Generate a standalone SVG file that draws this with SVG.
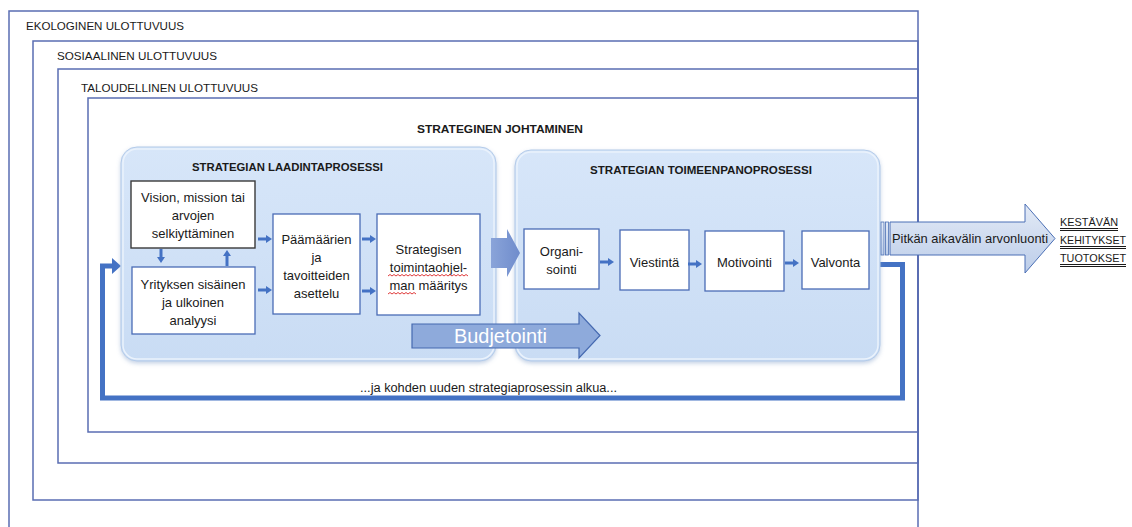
<svg xmlns="http://www.w3.org/2000/svg" width="1132" height="527" viewBox="0 0 1132 527">
  <style>
    .frame { fill: none; stroke: #5a6db3; stroke-width: 1.5; }
    .lbl { font-family: "Liberation Sans", Arial, sans-serif; fill: #1a1a1a; }
    .ttl { font-family: "Liberation Sans", Arial, sans-serif; font-weight: bold; fill: #1a1a1a; }
    .node { fill: #ffffff; stroke: #4a6cb5; stroke-width: 1.3; }
    .node-dark { fill: #ffffff; stroke: #3a3a3a; stroke-width: 1.4; }
    .txt { font-family: "Liberation Sans", Arial, sans-serif; font-size: 13px; fill: #1a1a1a; text-anchor: middle; }
    .proc { fill: url(#procFill); stroke: #b4cbe9; stroke-width: 1; filter: url(#soft); }
    .small { stroke: #4472c4; stroke-width: 3; fill: none; marker-end: url(#ah); }
    .loop { stroke: #4472c4; stroke-width: 5; fill: none; }
    .squiggle { fill: none; stroke: #e03c3c; stroke-width: 1; }
    .uline { stroke: #1a1a1a; stroke-width: 1; }
  </style>
  <defs>
    <linearGradient id="procFill" x1="0" y1="0" x2="0" y2="1">
      <stop offset="0" stop-color="#d7e6f9"/>
      <stop offset="1" stop-color="#c9dcf4"/>
    </linearGradient>
    <linearGradient id="longFill" x1="0" y1="0" x2="0" y2="1">
      <stop offset="0" stop-color="#e3eaf6"/>
      <stop offset="1" stop-color="#bccde9"/>
    </linearGradient>
    <linearGradient id="midFill" x1="0" y1="0" x2="1" y2="0">
      <stop offset="0" stop-color="#8aa4d9"/>
      <stop offset="1" stop-color="#6f8ccc"/>
    </linearGradient>
    <filter id="soft" x="-5%" y="-5%" width="110%" height="115%">
      <feDropShadow dx="0" dy="2" stdDeviation="2" flood-color="#7f9cc8" flood-opacity="0.45"/>
    </filter>
    <marker id="ah" viewBox="0 0 6 8" refX="0" refY="4" markerWidth="6" markerHeight="8" markerUnits="userSpaceOnUse" orient="auto">
      <path d="M0,0 L6,4 L0,8 Z" fill="#4472c4"/>
    </marker>
  </defs>

  <rect width="1132" height="527" fill="#ffffff"/>

  <!-- nested dimension frames -->
  <g id="ekologinen">
    <rect class="frame" x="9" y="11" width="909" height="530"/>
    <text class="lbl" x="26" y="30" font-size="11.5" textLength="158" lengthAdjust="spacingAndGlyphs">EKOLOGINEN ULOTTUVUUS</text>
  </g>
  <g id="sosiaalinen">
    <rect class="frame" x="33" y="41" width="885" height="459"/>
    <text class="lbl" x="57" y="60" font-size="11.5" textLength="160" lengthAdjust="spacingAndGlyphs">SOSIAALINEN ULOTTUVUUS</text>
  </g>
  <g id="taloudellinen">
    <rect class="frame" x="58" y="69" width="860" height="394"/>
    <text class="lbl" x="81" y="92" font-size="11.5" textLength="177" lengthAdjust="spacingAndGlyphs">TALOUDELLINEN ULOTTUVUUS</text>
  </g>
  <g id="strateginen-johtaminen">
    <rect class="frame" x="88" y="98" width="830" height="334" stroke="#4a67b3" stroke-width="2"/>
    <text class="ttl" x="417" y="133" font-size="11.5" textLength="166" lengthAdjust="spacingAndGlyphs">STRATEGINEN JOHTAMINEN</text>
  </g>

  <!-- feedback loop back to the start of the process -->
  <g id="connectors-loop">
    <path class="loop" d="M878,264.5 H902.5 V398 H102.5 V266 H113"/>
    <polygon points="112,258 121,266 112,274" fill="#4472c4"/>
  </g>

  <!-- process containers -->
  <g id="laadintaprosessi">
    <rect class="proc" x="121" y="147" width="375" height="214" rx="16"/>
    <rect x="123" y="149" width="371" height="210" rx="14" fill="none" stroke="#eaf2fc" stroke-width="1.5"/>
    <text class="ttl" x="192" y="171" font-size="11.5" textLength="191" lengthAdjust="spacingAndGlyphs">STRATEGIAN LAADINTAPROSESSI</text>
  </g>
  <g id="toimeenpanoprosessi">
    <rect class="proc" x="515" y="150" width="365" height="211" rx="16"/>
    <rect x="517" y="152" width="361" height="207" rx="14" fill="none" stroke="#eaf2fc" stroke-width="1.5"/>
    <text class="ttl" x="590" y="174" font-size="11.5" textLength="222" lengthAdjust="spacingAndGlyphs">STRATEGIAN TOIMEENPANOPROSESSI</text>
  </g>

  <!-- planning nodes -->
  <g id="visio">
    <rect class="node-dark" x="131" y="181" width="124" height="67"/>
    <text class="txt" x="193" y="202">Vision, mission tai</text>
    <text class="txt" x="193" y="220">arvojen</text>
    <text class="txt" x="193" y="238">selkiyttäminen</text>
  </g>
  <g id="analyysi">
    <rect class="node" x="132" y="267" width="123" height="67"/>
    <text class="txt" x="193" y="289">Yrityksen sisäinen</text>
    <text class="txt" x="193" y="307">ja ulkoinen</text>
    <text class="txt" x="193" y="325">analyysi</text>
  </g>
  <g id="paamaarat">
    <rect class="node" x="273" y="214" width="87" height="100"/>
    <text class="txt" x="316.5" y="244">Päämäärien</text>
    <text class="txt" x="316.5" y="262">ja</text>
    <text class="txt" x="316.5" y="280">tavoitteiden</text>
    <text class="txt" x="316.5" y="298">asettelu</text>
  </g>
  <g id="toimintaohjelma">
    <rect class="node" x="377" y="214" width="103" height="101"/>
    <text class="txt" x="428.5" y="254">Strategisen</text>
    <text class="txt" x="428.5" y="272">toimintaohjel-</text>
    <text class="txt" x="428.5" y="290">man määritys</text>
    <path class="squiggle" d="M388,276 l2,-1.5 l2,1.5 l2,-1.5 l2,1.5 l2,-1.5 l2,1.5 l2,-1.5 l2,1.5 l2,-1.5 l2,1.5 l2,-1.5 l2,1.5 l2,-1.5 l2,1.5 l2,-1.5 l2,1.5 l2,-1.5 l2,1.5 l2,-1.5 l2,1.5 l2,-1.5 l2,1.5 l2,-1.5 l2,1.5 l2,-1.5 l2,1.5 l2,-1.5 l2,1.5 l2,-1.5 l2,1.5 l2,-1.5 l2,1.5 l2,-1.5 l2,1.5 l2,-1.5 l2,1.5 l2,-1.5 l2,1.5 l2,-1.5 l2,1.5"/>
    <path class="squiggle" d="M388,294 l2,-1.5 l2,1.5 l2,-1.5 l2,1.5 l2,-1.5 l2,1.5 l2,-1.5 l2,1.5 l2,-1.5 l2,1.5 l2,-1.5 l2,1.5 l2,-1.5 l2,1.5"/>
  </g>

  <!-- implementation nodes -->
  <g id="organisointi">
    <rect class="node" x="524" y="229" width="75" height="60"/>
    <text class="txt" x="561.5" y="256">Organi-</text>
    <text class="txt" x="561.5" y="274">sointi</text>
  </g>
  <g id="viestinta">
    <rect class="node" x="620" y="230" width="69" height="60"/>
    <text class="txt" x="654.5" y="267">Viestintä</text>
  </g>
  <g id="motivointi">
    <rect class="node" x="705" y="231" width="79" height="60"/>
    <text class="txt" x="744.5" y="267">Motivointi</text>
  </g>
  <g id="valvonta">
    <rect class="node" x="802" y="231" width="67" height="58"/>
    <text class="txt" x="835.5" y="267">Valvonta</text>
  </g>

  <!-- flow connectors -->
  <g id="connectors">
    <line class="small" x1="258" y1="239" x2="266" y2="239"/>
    <line class="small" x1="258" y1="290" x2="266" y2="290"/>
    <line class="small" x1="362" y1="239" x2="370" y2="239"/>
    <line class="small" x1="362" y1="291" x2="370" y2="291"/>
    <line class="small" x1="161" y1="249" x2="161" y2="257"/>
    <line class="small" x1="227" y1="266" x2="227" y2="256"/>
    <line class="small" x1="600" y1="262" x2="608" y2="262"/>
    <line class="small" x1="688" y1="264" x2="696" y2="264"/>
    <line class="small" x1="785" y1="263" x2="793" y2="263"/>
    <!-- block arrow from planning to implementation -->
    <polygon points="491,238 507,238 507,229 520,253 507,277 507,268 491,268" fill="url(#midFill)"/>
  </g>

  <!-- budgeting arrow spanning both processes -->
  <g id="budjetointi">
    <polygon points="412,324 579,324 579,313 600,335.5 579,358 579,348 412,348" fill="#8eaadb" stroke="#4569b0" stroke-width="1.2"/>
    <text x="500.5" y="343" font-family="Liberation Sans, Arial, sans-serif" font-size="19.5" fill="#ffffff" text-anchor="middle" textLength="93" lengthAdjust="spacingAndGlyphs">Budjetointi</text>
  </g>

  <!-- loop caption -->
  <g id="loop-label">
    <text class="lbl" x="360" y="392" font-size="12" textLength="257" lengthAdjust="spacingAndGlyphs">...ja kohden uuden strategiaprosessin alkua...</text>
  </g>

  <!-- long-term value creation arrow -->
  <g id="arvonluonti">
    <rect x="881" y="222" width="3" height="33" fill="url(#longFill)" stroke="#4a6fb5" stroke-width="0.8"/>
    <rect x="885.5" y="222" width="3" height="33" fill="url(#longFill)" stroke="#4a6fb5" stroke-width="0.8"/>
    <polygon points="890,222 1025,222 1025,204 1055,238.5 1025,273 1025,255 890,255" fill="url(#longFill)" stroke="#4a6fb5" stroke-width="1"/>
    <text class="lbl" x="892" y="243" font-size="13" textLength="156" lengthAdjust="spacingAndGlyphs">Pitkän aikavälin arvonluonti</text>
  </g>

  <!-- outcomes -->
  <g id="tuotokset">
    <text class="lbl" x="1060" y="226" font-size="11.3" textLength="58" lengthAdjust="spacingAndGlyphs">KESTÄVÄN</text>
    <line class="uline" x1="1060" y1="228.5" x2="1118" y2="228.5"/>
    <line class="uline" x1="1060" y1="230.5" x2="1118" y2="230.5"/>
    <text class="lbl" x="1060" y="244" font-size="11.3" textLength="66" lengthAdjust="spacingAndGlyphs">KEHITYKSET</text>
    <line class="uline" x1="1060" y1="246.5" x2="1126" y2="246.5"/>
    <line class="uline" x1="1060" y1="248.5" x2="1126" y2="248.5"/>
    <text class="lbl" x="1060" y="262" font-size="11.3" textLength="66" lengthAdjust="spacingAndGlyphs">TUOTOKSET</text>
    <line class="uline" x1="1060" y1="264.5" x2="1126" y2="264.5"/>
    <line class="uline" x1="1060" y1="266.5" x2="1126" y2="266.5"/>
  </g>
</svg>
